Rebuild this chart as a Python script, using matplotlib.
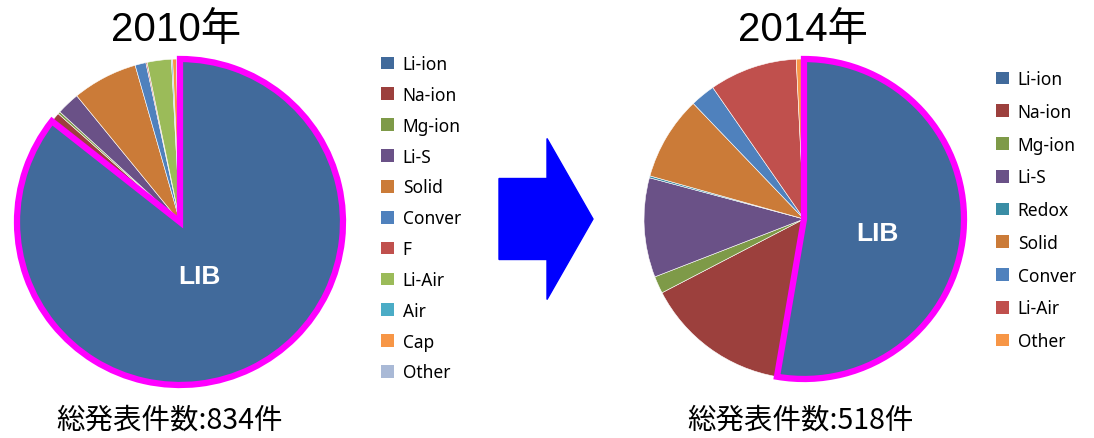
import matplotlib
matplotlib.use('Agg')
import matplotlib.pyplot as plt
import matplotlib.patches as mpatches

# 2010年 data (件数, total 834)
labels_2010 = ['Li-ion', 'Na-ion', 'Mg-ion', 'Li-S', 'Solid', 'Conver', 'F',
               'Li-Air', 'Air', 'Cap', 'Other']
counts_2010 = [714, 8, 2, 19, 54, 9, 1, 20, 1, 3, 3]
colors_2010 = ['#416A9B', '#9C403D', '#7E9A48', '#6A5187', '#CB7B38', '#4F81BD',
               '#C0504D', '#9BBB59', '#4BACC6', '#F79646', '#A9B9D6']

# 2014年 data (件数, total 518)
labels_2014 = ['Li-ion', 'Na-ion', 'Mg-ion', 'Li-S', 'Redox', 'Solid', 'Conver',
               'Li-Air', 'Other']
counts_2014 = [273, 76, 9, 52, 1, 44, 13, 46, 4]
colors_2014 = ['#416A9B', '#9C403D', '#7E9A48', '#6A5187', '#3A8DA5', '#CB7B38',
               '#4F81BD', '#C0504D', '#F79646']

W, H = 1094, 439
fig = plt.figure(figsize=(W / 100, H / 100), dpi=100)
jp = ['Noto Sans CJK JP', 'DejaVu Sans']
title_font = ['Liberation Sans', 'Noto Sans CJK JP']


def px_axes(cx, cy, r):
    return fig.add_axes([(cx - r) / W, (H - cy - r) / H, 2 * r / W, 2 * r / H])


def draw_pie(ax, counts, colors, lib_xy):
    wedges, _ = ax.pie(counts, colors=colors, startangle=90, counterclock=False,
                       wedgeprops=dict(edgecolor='white', linewidth=0.4))
    w = wedges[0]
    w.set_edgecolor('#FF00FF')
    w.set_linewidth(4.5)
    w.set_joinstyle('miter')
    w.set_zorder(5)
    ax.set_xlim(-1, 1)
    ax.set_ylim(-1, 1)
    ax.set_aspect('equal')
    ax.axis('off')
    ax.text(lib_xy[0], lib_xy[1], 'LIB', color='white', fontsize=19,
            fontweight='bold', ha='center', va='center', zorder=6,
            family=['Liberation Sans', 'DejaVu Sans'])


ax1 = px_axes(180, 223, 163)
draw_pie(ax1, counts_2010, colors_2010, (0.12, -0.33))
ax2 = px_axes(804, 220, 160)
draw_pie(ax2, counts_2014, colors_2014, (0.46, -0.09))


def add_legend(labels, colors, x, y, spacing):
    handles = [mpatches.Patch(facecolor=c, edgecolor='none') for c in colors]
    fig.legend(handles, labels, loc='upper left', bbox_to_anchor=(x / W, 1 - y / H),
               frameon=False, handlelength=0.75, handleheight=0.75,
               handletextpad=0.5, labelspacing=spacing, borderpad=0, borderaxespad=0,
               prop={'family': ['Noto Sans', 'DejaVu Sans'], 'size': 12.5})


add_legend(labels_2010, colors_2010, 381, 56, 0.74)
add_legend(labels_2014, colors_2014, 996, 71, 0.85)

# titles and totals
fig.text(176 / W, 1 - 30 / H, '2010年', fontsize=29, ha='center', va='center', family=title_font)
fig.text(803 / W, 1 - 30 / H, '2014年', fontsize=29, ha='center', va='center', family=title_font)
fig.text(170 / W, 1 - 421 / H, '総発表件数:834件', fontsize=20.5, ha='center', va='center', family=jp)
fig.text(800 / W, 1 - 421 / H, '総発表件数:518件', fontsize=20.5, ha='center', va='center', family=jp)

# big blue arrow between the two pies
arrow = mpatches.FancyArrow(4.99, (H - 220) / 100, 0.94, 0, width=0.81,
                            head_width=1.61, head_length=0.46,
                            length_includes_head=True, color='#0000FF',
                            transform=fig.dpi_scale_trans)
fig.patches.append(arrow)

fig.savefig('out.png', dpi=100)
